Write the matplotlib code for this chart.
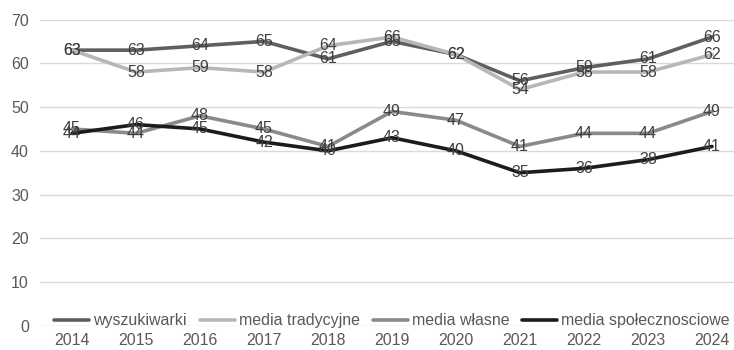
import matplotlib.pyplot as plt
import numpy as np

plt.rcParams['font.family'] = ['Liberation Sans', 'DejaVu Sans']

years = ['2014', '2015', '2016', '2017', '2018', '2019', '2020', '2021', '2022', '2023', '2024']
wyszukiwarki = [63, 63, 64, 65, 61, 65, 62, 56, 59, 61, 66]
media_tradycyjne = [63, 58, 59, 58, 64, 66, 62, 54, 58, 58, 62]
media_wlasne = [45, 44, 48, 45, 41, 49, 47, 41, 44, 44, 49]
media_spol = [44, 46, 45, 42, 40, 43, 40, 35, 36, 38, 41]

series = [
    ('wyszukiwarki', wyszukiwarki, '#5f5f5f'),
    ('media tradycyjne', media_tradycyjne, '#b7b7b7'),
    ('media własne', media_wlasne, '#8a8a8a'),
    ('media społecznosciowe', media_spol, '#1c1c1c'),
]

fig = plt.figure(figsize=(7.34, 3.5), dpi=100)
# axes runs a bit past the right edge, like the cropped original
ax = fig.add_axes([40 / 734, 24 / 350, 704 / 734, 306.5 / 350])

x = np.arange(len(years))
for name, vals, col in series:
    ax.plot(x, vals, color=col, linewidth=2.6, label=name, solid_capstyle='round')
for name, vals, col in series:
    for xi, v in zip(x, vals):
        ax.text(xi, v, str(v), ha='center', va='center', fontsize=11.5, color='#404040')

ax.set_xlim(-0.5, len(years) - 0.5)
ax.set_ylim(0, 70)
ax.set_yticks(range(0, 71, 10))
ax.set_xticks(x)
ax.set_xticklabels(years)
ax.tick_params(axis='both', length=0, labelsize=11.5, colors='#595959')
ax.tick_params(axis='x', pad=5)
ax.tick_params(axis='y', pad=8)
ax.grid(axis='y', color='#d9d9d9', linewidth=1)
ax.set_axisbelow(True)
for s in ax.spines.values():
    s.set_visible(False)

leg = ax.legend(loc='lower center', bbox_to_anchor=(0.5, -0.055), ncol=4, frameon=False,
                fontsize=11.5, handlelength=2.2, handletextpad=0.25, columnspacing=0.8)
for t in leg.get_texts():
    t.set_color('#595959')

fig.savefig('out.png', dpi=100)
